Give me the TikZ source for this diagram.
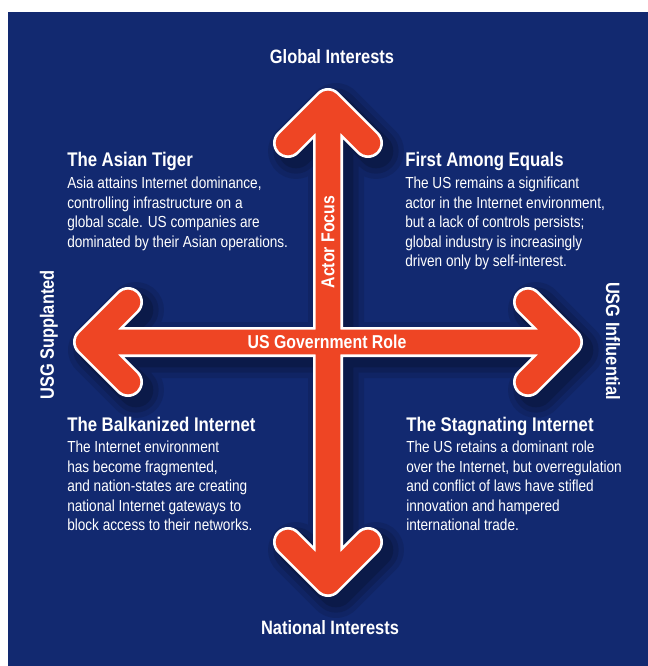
\documentclass[tikz,border=0pt]{standalone}
\usepackage{fontspec}
\setmainfont{Liberation Sans}[FakeStretch=0.85]
\usepackage{tikz}
\usetikzlibrary{calc}

\definecolor{navy}{RGB}{18,41,112}
\definecolor{tangerine}{RGB}{238,69,36}

\tikzset{
	crosspath/.style={insert path={
		(top) -- (bot) (lft) -- (rgt)
		(topL) -- (top) -- (topR)
		(botL) -- (bot) -- (botR)
		(lftU) -- (lft) -- (lftD)
		(rgtU) -- (rgt) -- (rgtD)}},
	heading/.style={anchor=base west, inner sep=0pt, text=white, font=\fontsize{14.8}{16}\selectfont\bfseries},
	blurb/.style={anchor=north west, inner sep=0pt, text=white, align=left, font=\fontsize{12}{14.6}\selectfont},
	axislabel/.style={inner sep=0pt, text=white, font=\fontsize{14.5}{16}\selectfont\bfseries}
}

\begin{document}
\begin{tikzpicture}[x=0.75pt, y=-0.75pt]
	
	\useasboundingbox (0,0) rectangle (648,666);
	\fill[navy] (8,12) rectangle (648,666);
	
	\coordinate (top) at (328,103);
	\coordinate (bot) at (328,582);
	\coordinate (lft) at (88,342);
	\coordinate (rgt) at (568,342);
	\coordinate (topL) at (288,143);
	\coordinate (topR) at (368,143);
	\coordinate (botL) at (288,542);
	\coordinate (botR) at (368,542);
	\coordinate (lftU) at (128,302);
	\coordinate (lftD) at (128,382);
	\coordinate (rgtU) at (528,302);
	\coordinate (rgtD) at (528,382);
	
	% soft shadow
	\begin{scope}[transform canvas={shift={(6pt,-6pt)}}, line cap=round, line join=round]
		\draw[black, opacity=0.10, line width=42pt, crosspath];
		\draw[black, opacity=0.12, line width=34pt, crosspath];
		\draw[black, opacity=0.16, line width=26pt, crosspath];
	\end{scope}
	
	\draw[white, line width=22.5pt, line cap=round, line join=round, crosspath];
	\draw[tangerine, line width=18.5pt, line cap=round, line join=round, crosspath];
	
	\node[axislabel] (global) at (332,57) {Global Interests};
	\node[axislabel] (national) at (330,628) {National Interests};
	\node[axislabel, rotate=90] (supplanted) at (49,335) {USG Supplanted};
	\node[axislabel, rotate=-90] (influential) at (613,341) {USG Influential};
	\node[axislabel, font=\fontsize{14}{16}\selectfont\bfseries, rotate=90] (actor) at (328,242) {Actor Focus};
	\node[axislabel, font=\fontsize{14}{16}\selectfont\bfseries] (usgrole) at (327,342) {US Government Role};
	
	\node[heading] (tiger) at (67,167) {The Asian Tiger};
	\node[blurb] (tigertext) at (67,177) {Asia attains Internet dominance,\\controlling infrastructure on a\\global scale. US companies are\\dominated by their Asian operations.};
	
	\node[heading] (equals) at (405,167) {First Among Equals};
	\node[blurb] (equalstext) at (405,177) {The US remains a significant\\actor in the Internet environment,\\but a lack of controls persists;\\global industry is increasingly\\driven only by self-interest.};
	
	\node[heading] (balkan) at (67,431) {The Balkanized Internet};
	\node[blurb] (balkantext) at (67,441) {The Internet environment\\has become fragmented,\\and nation-states are creating\\national Internet gateways to\\block access to their networks.};
	
	\node[heading] (stagnate) at (406,431) {The Stagnating Internet};
	\node[blurb] (stagnatetext) at (406,441) {The US retains a dominant role\\over the Internet, but overregulation\\and conflict of laws have stifled\\innovation and hampered\\international trade.};
	
\end{tikzpicture}
\end{document}
